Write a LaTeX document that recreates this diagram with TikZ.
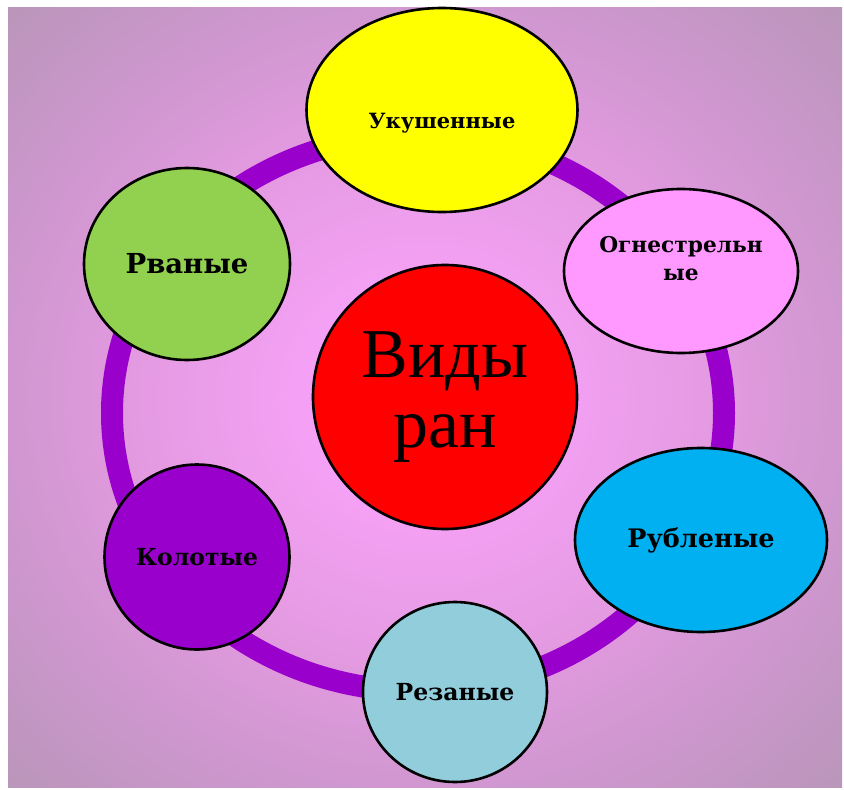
\documentclass[tikz,border=0pt]{standalone}
\usepackage{fontspec}
\setmainfont{Liberation Serif}
\newfontfamily\labelfont{DejaVu Serif}
\usetikzlibrary{positioning, shapes.geometric}

\definecolor{glowin}{HTML}{F9A2F9}
\definecolor{glowa}{HTML}{F4A0F4}
\definecolor{glowmid}{HTML}{E29ADF}
\definecolor{glowedge}{HTML}{D097D0}
\definecolor{glowout}{HTML}{B896B8}
\definecolor{ringc}{HTML}{9900CC}
\definecolor{bitten}{HTML}{FFFF00}
\definecolor{gunshot}{HTML}{FF99FF}
\definecolor{chopped}{HTML}{00B0F0}
\definecolor{incised}{HTML}{92CDDC}
\definecolor{stabbed}{HTML}{9900CC}
\definecolor{torn}{HTML}{92D050}

% path box is mapped onto the middle 50bp square of the shading
\pgfdeclareradialshading{glow}{\pgfpoint{0bp}{0bp}}{color(0bp)=(glowin); color(8bp)=(glowa); color(18bp)=(glowmid); color(25bp)=(glowedge); color(36bp)=(glowout); color(50bp)=(glowout)}

\begin{document}
\begin{tikzpicture}[x=1pt, y=-1pt,
    wound/.style={ellipse, draw, line width=2.6pt, inner sep=0pt, align=center,
        font=\labelfont\bfseries\fontsize{23.5}{28}\selectfont}]
    \useasboundingbox[fill=white] (0,0) rectangle (844,790);
    \shade[shading=glow] (8,7) rectangle (842,787);

    % the ring behind all the nodes
    \draw[ringc, line width=22pt] (418,413) ellipse [x radius=306pt, y radius=278pt];

    \node[circle, draw, line width=2.6pt, fill=red, minimum size=264pt, inner sep=0pt,
        align=center, font=\fontsize{70}{70}\selectfont] (types) at (445,397) {Виды\\ран};

    \node[wound, fill=bitten, minimum width=271pt, minimum height=204pt,
        text height=36pt, text depth=0pt,
        font=\labelfont\bfseries\fontsize{21}{28}\selectfont] (bit) at (442,110) {Укушенные};
    \node[wound, fill=gunshot, minimum width=234pt, minimum height=164pt,
        text depth=26pt,
        font=\labelfont\bfseries\fontsize{21.7}{28}\selectfont] (gun) at (681,271) {Огнестрельн\\ые};
    \node[wound, fill=chopped, minimum width=252pt, minimum height=184pt,
        font=\labelfont\bfseries\fontsize{25.5}{28}\selectfont] (chop) at (701,540) {Рубленые};
    \node[wound, fill=incised, minimum width=184pt, minimum height=180pt] (cut) at (455,692) {Резаные};
    \node[wound, fill=stabbed, minimum width=185pt, minimum height=185pt] (stab) at (197,557) {Колотые};
    \node[wound, fill=torn, minimum width=206pt, minimum height=192pt,
        font=\labelfont\bfseries\fontsize{27.5}{30}\selectfont] (tear) at (187,264) {Рваные};
\end{tikzpicture}
\end{document}
